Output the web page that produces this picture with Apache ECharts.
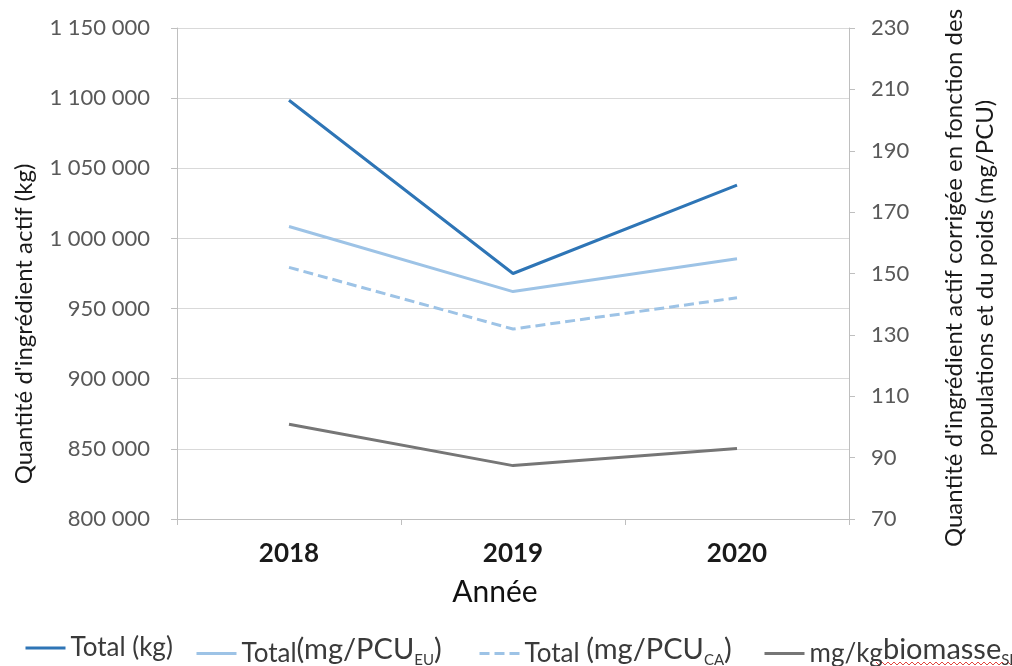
<!DOCTYPE html>
<html>
<head>
<meta charset="utf-8">
<style>
  html, body { margin: 0; padding: 0; background: #ffffff; }
  #chart { width: 1012px; height: 666px; }
</style>
<script src="https://cdn.jsdelivr.net/npm/echarts@6/dist/echarts.min.js"></script>
</head>
<body>
<div id="chart"></div>
<script>
// Years on the category axis
const years = ['2018', '2019', '2020'];

// Active ingredient quantity (kg) — left axis
const totalKg = [1098500, 975000, 1038000];

// Corrected quantities (mg/PCU) — right axis
const totalPcuEu = [165.3, 144.1, 154.8];
const totalPcuCa = [152.0, 131.9, 142.1];
const biomasseSl = [100.9, 87.4, 93.0];

// Axis tick settings
const leftTicks = { min: 800000, max: 1150000, interval: 50000 };
const rightTicks = { min: 70, max: 230, interval: 20 };

const seriesNames = ['Total (kg)', 'Total (mg/PCU EU)', 'Total (mg/PCU CA)', 'mg/kg biomasse SL'];

const LATO = 'Lato, "Noto Sans", sans-serif';

function groupThousands(v) {
  return String(v).replace(/\B(?=(\d{3})+(?!\d))/g, ' ');
}

// Legend labels with subscripts
const legendText = {
  'Total (kg)': '{a|Total (kg)}',
  'Total (mg/PCU EU)': '{a|Total}{b|(mg/PCU}{s|EU}{b|)}',
  'Total (mg/PCU CA)': '{a|Total }{b|(mg/PCU}{s|CA}{b|)}',
  'mg/kg biomasse SL': '{a|mg/kg}{b|biomasse}{s|SL}'
};

const legendRich = {
  a: { fontFamily: LATO, fontSize: 26, color: '#3a3a3a' },
  b: { fontFamily: LATO, fontSize: 29, color: '#3a3a3a', padding: [0, 0, 8, 0] },
  s: { fontFamily: LATO, fontSize: 15, color: '#3a3a3a', padding: [13, 0, 0, 0] }
};

const legendLeft = [24, 195, 478, 763];

const legends = seriesNames.map((name, i) => ({
  data: [name],
  left: legendLeft[i],
  top: 635,
  padding: 0,
  itemWidth: 40,
  itemHeight: 14,
  selectedMode: false,
  itemStyle: { opacity: 0 },
  lineStyle: { width: 3 },
  formatter: n => legendText[n],
  textStyle: { rich: legendRich }
}));

// Spell-check style wavy underline below "biomasse"
const wave = [];
for (let x = 876; x <= 1012; x += 3) {
  wave.push([x, (Math.round((x - 876) / 3) % 2 === 0) ? 662 : 665]);
}

const axisGrey = '#bfbfbf';

const option = {
  backgroundColor: '#ffffff',
  animation: false,
  grid: { left: 177, right: 163, top: 28, bottom: 147, containLabel: false },
  legend: legends,
  xAxis: {
    type: 'category',
    data: years,
    boundaryGap: true,
    axisLine: { lineStyle: { color: axisGrey, width: 1 } },
    axisTick: { show: true, length: 6, lineStyle: { color: axisGrey } },
    axisLabel: { fontFamily: LATO, fontSize: 26, fontWeight: 'bold', color: '#1a1a1a', margin: 22 },
    splitLine: { show: false }
  },
  yAxis: [
    {
      type: 'value',
      position: 'left',
      min: leftTicks.min,
      max: leftTicks.max,
      interval: leftTicks.interval,
      axisLine: { show: true, lineStyle: { color: axisGrey, width: 1 } },
      axisTick: { show: true, length: 6, lineStyle: { color: axisGrey } },
      axisLabel: { fontFamily: LATO, fontSize: 22, color: '#595959', margin: 27, formatter: groupThousands },
      splitLine: { show: true, lineStyle: { color: '#d9d9d9', width: 1 } }
    },
    {
      type: 'value',
      position: 'right',
      min: rightTicks.min,
      max: rightTicks.max,
      interval: rightTicks.interval,
      axisLine: { show: true, lineStyle: { color: axisGrey, width: 1 } },
      axisTick: { show: true, length: 6, lineStyle: { color: axisGrey } },
      axisLabel: { fontFamily: LATO, fontSize: 22, color: '#595959', margin: 22 },
      splitLine: { show: false }
    }
  ],
  series: [
    {
      name: seriesNames[0], type: 'line', yAxisIndex: 0, data: totalKg,
      symbol: 'none', color: '#2e75b6',
      lineStyle: { color: '#2e75b6', width: 3 }
    },
    {
      name: seriesNames[1], type: 'line', yAxisIndex: 1, data: totalPcuEu,
      symbol: 'none', color: '#9dc3e6',
      lineStyle: { color: '#9dc3e6', width: 3 }
    },
    {
      name: seriesNames[2], type: 'line', yAxisIndex: 1, data: totalPcuCa,
      symbol: 'none', color: '#9dc3e6',
      lineStyle: { color: '#9dc3e6', width: 3, type: [10, 5] }
    },
    {
      name: seriesNames[3], type: 'line', yAxisIndex: 1, data: biomasseSl,
      symbol: 'none', color: '#767676',
      lineStyle: { color: '#767676', width: 3 }
    }
  ],
  graphic: [
    {
      type: 'text', x: 24, y: 324, rotation: Math.PI / 2,
      style: {
        text: "Quantité d'ingrédient actif (kg)",
        fontFamily: LATO, fontSize: 24, fill: '#1a1a1a',
        align: 'center', verticalAlign: 'middle'
      }
    },
    {
      type: 'text', x: 970, y: 278, rotation: Math.PI / 2,
      style: {
        text: "Quantité d'ingrédient actif corrigée en fonction des\npopulations et du poids (mg/PCU)",
        fontFamily: LATO, fontSize: 24, lineHeight: 31, fill: '#1a1a1a',
        align: 'center', verticalAlign: 'middle'
      }
    },
    {
      type: 'text', x: 495, y: 592,
      style: {
        text: 'Année',
        fontFamily: LATO, fontSize: 30, fill: '#111111',
        align: 'center', verticalAlign: 'middle'
      }
    },
    {
      type: 'polyline',
      shape: { points: wave },
      style: { stroke: '#e2463f', lineWidth: 1, fill: null }
    }
  ]
};

const chart = echarts.init(document.getElementById('chart'), null, { renderer: 'canvas' });
chart.setOption(option);
</script>
</body>
</html>
